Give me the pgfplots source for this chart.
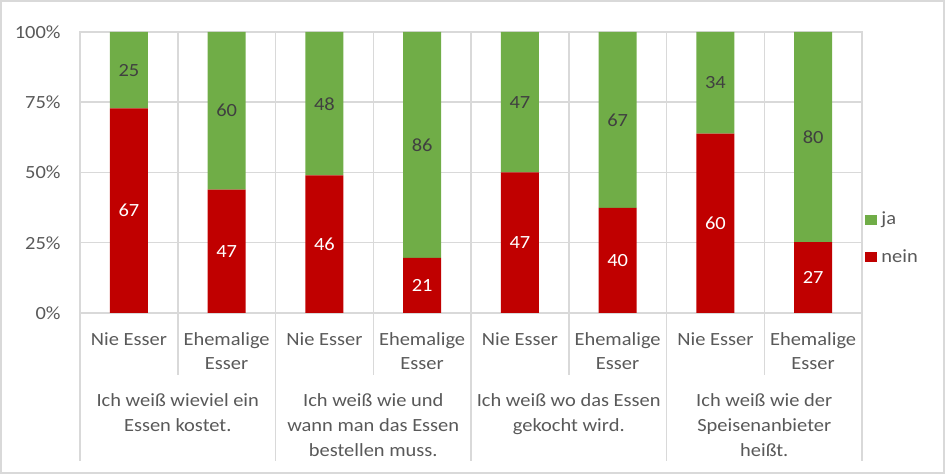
\documentclass[border=0pt]{standalone}
\usepackage{pgfplots}
\pgfplotsset{compat=1.18}
\usepackage{pgfplotstable}
\usepackage{fontspec}
\setmainfont{Carlito}[FakeStretch=1.1]
\definecolor{gridgray}{HTML}{D9D9D9}
\definecolor{txtgray}{HTML}{595959}
\definecolor{jagreen}{HTML}{70AD47}
\definecolor{neinred}{HTML}{C00000}
\definecolor{lblgray}{HTML}{404040}
\newcommand{\cfont}{\fontsize{9.3}{12}\selectfont}
\newcommand{\gfont}{\fontsize{9.3}{12.5}\selectfont}

\pgfplotstableread{
x nein ja
0 67 25
1 47 60
2 46 48
3 21 86
4 47 47
5 40 67
6 60 34
7 27 80
}\datatable

\begin{document}
\begin{tikzpicture}
\useasboundingbox (0,0) rectangle (472.5pt,237pt);
\draw[gridgray, line width=1pt] (0.5pt,0.5pt) rectangle (472pt,236.5pt);
\begin{axis}[
  at={(40pt,80.5pt)}, anchor=south west,
  scale only axis, width=391pt, height=140.5pt,
  ybar stacked, bar width=0.39,
  xmin=-0.5, xmax=7.5, ymin=0, ymax=100,
  xtick={0,...,7},
  xticklabels={Nie Esser,{Ehemalige\\Esser},Nie Esser,{Ehemalige\\Esser},Nie Esser,{Ehemalige\\Esser},Nie Esser,{Ehemalige\\Esser}},
  ytick={0,25,50,75,100},
  yticklabels={0\%,25\%,50\%,75\%,100\%},
  minor xtick={0.5,1.5,2.5,3.5,4.5,5.5,6.5},
  ymajorgrids, xminorgrids,
  grid style={gridgray, line width=0.75pt},
  minor grid style={gridgray, line width=0.75pt},
  axis line style={gridgray, line width=0.75pt},
  major tick length=0pt, minor tick length=0pt,
  tick label style={font=\cfont, text=txtgray},
  xticklabel style={align=center, anchor=north, inner sep=0pt, yshift=-9.5pt},
  yticklabel style={anchor=east, inner sep=0pt, xshift=-9.5pt},
  /pgf/number format/assume math mode=true,
  clip=false,
  reverse legend,
  legend style={at={(1,0.265)}, anchor=west, draw=none, fill=none,
    inner xsep=1.5pt, inner ysep=0pt, row sep=7pt, font=\cfont, text=txtgray,
    cells={anchor=west}},
]
\addplot[fill=neinred, draw=none, point meta=explicit,
  nodes near coords={\pgfmathprintnumber{\pgfplotspointmeta}},
  every node near coord/.append style={anchor=center, font=\cfont, text=white},
  legend image code/.code={\fill[neinred] (0pt,-2.5pt) rectangle (6pt,2.5pt);}]
  table[x=x, y expr={\thisrow{nein}/(\thisrow{nein}+\thisrow{ja})*100}, meta=nein]{\datatable};
\addplot[fill=jagreen, draw=none, point meta=explicit,
  nodes near coords={\pgfmathprintnumber{\pgfplotspointmeta}},
  every node near coord/.append style={anchor=center, font=\cfont, text=lblgray},
  legend image code/.code={\fill[jagreen] (0pt,-2.5pt) rectangle (6pt,2.5pt);}]
  table[x=x, y expr={\thisrow{ja}/(\thisrow{nein}+\thisrow{ja})*100}, meta=ja]{\datatable};
\legend{nein,ja}
\pgfplotsinvokeforeach{0.5,2.5,4.5,6.5}{
  \draw[gridgray, line width=0.75pt] (axis cs:#1,0) -- ([yshift=-31pt]axis cs:#1,0);
}
\pgfplotsinvokeforeach{-0.5,1.5,3.5,5.5,7.5}{
  \draw[gridgray, line width=0.75pt] (axis cs:#1,0) -- ([yshift=-74pt]axis cs:#1,0);
}
\node[align=center, anchor=north, inner sep=0pt, font=\gfont, text=txtgray, yshift=-40pt] at (axis cs:0.5,0) {Ich weiß wieviel ein\\Essen kostet.};
\node[align=center, anchor=north, inner sep=0pt, font=\gfont, text=txtgray, yshift=-40pt] at (axis cs:2.5,0) {Ich weiß wie und\\wann man das Essen\\bestellen muss.};
\node[align=center, anchor=north, inner sep=0pt, font=\gfont, text=txtgray, yshift=-40pt] at (axis cs:4.5,0) {Ich weiß wo das Essen\\gekocht wird.};
\node[align=center, anchor=north, inner sep=0pt, font=\gfont, text=txtgray, yshift=-40pt] at (axis cs:6.5,0) {Ich weiß wie der\\Speisenanbieter\\heißt.};
\end{axis}
\end{tikzpicture}
\end{document}
